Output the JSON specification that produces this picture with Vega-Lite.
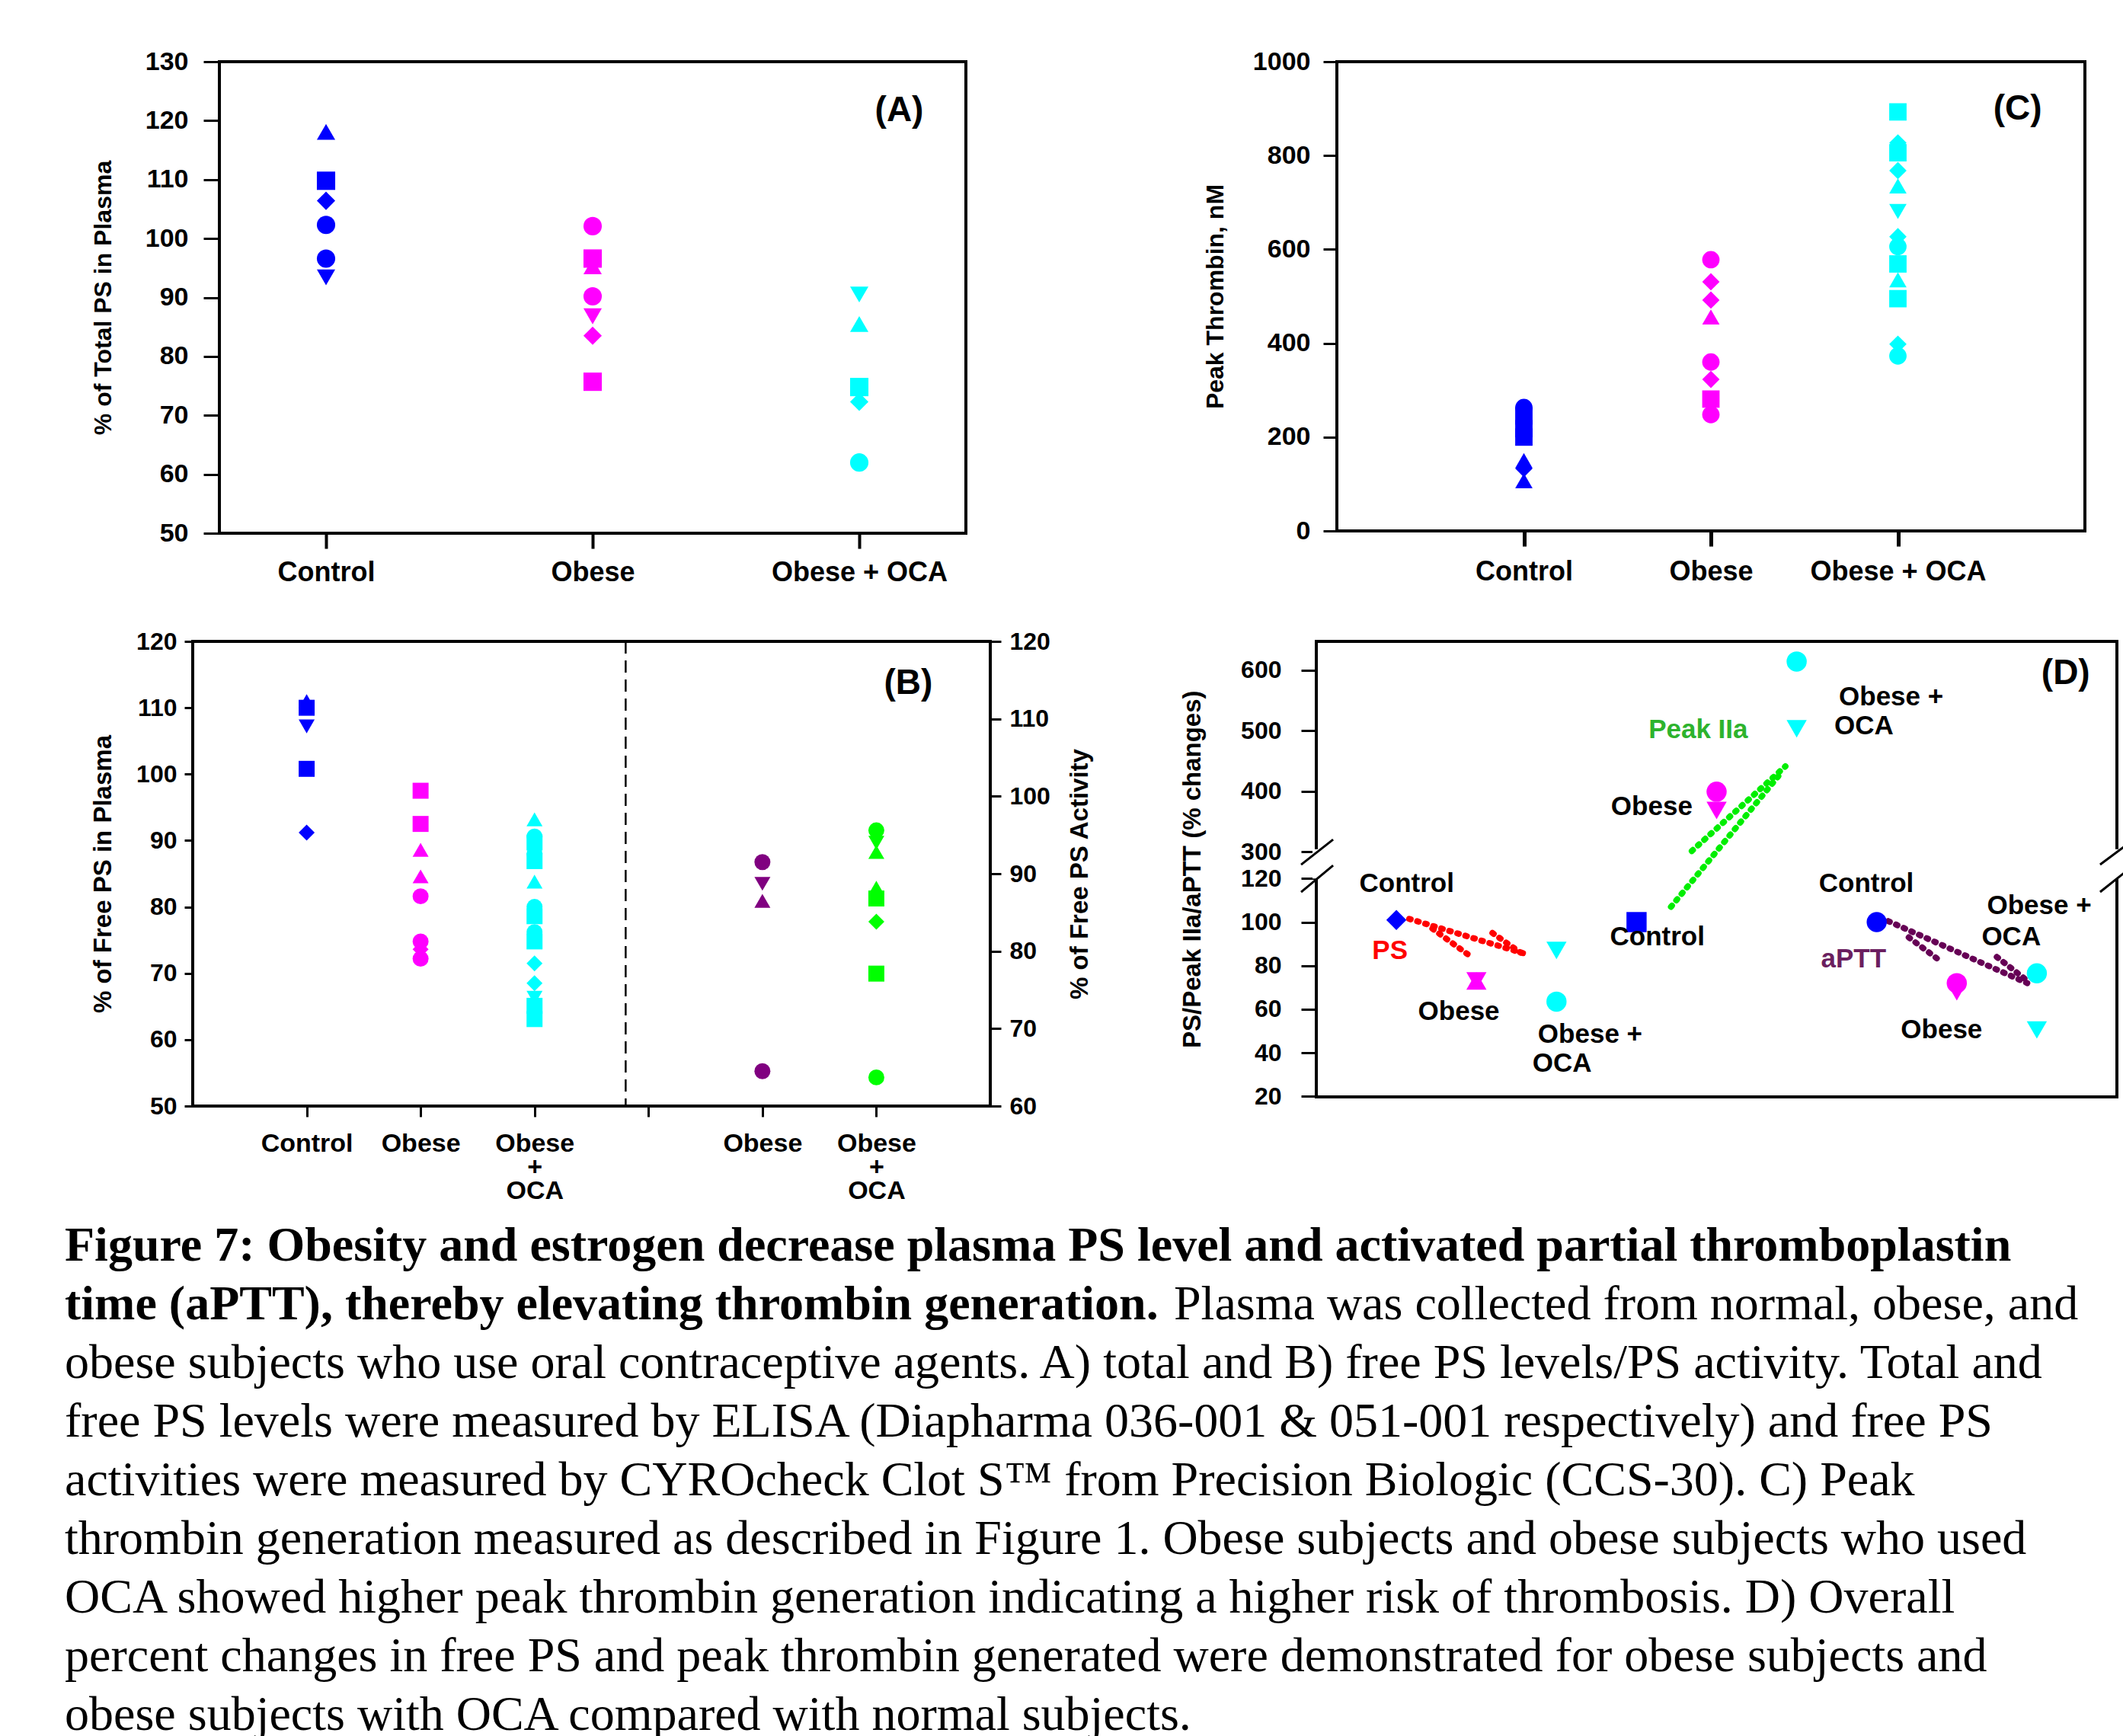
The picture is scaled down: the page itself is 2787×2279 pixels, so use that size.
{
  "$schema": "https://vega.github.io/schema/vega-lite/v6.json",
  "background": "white",
  "padding": {"left": 85, "top": 62, "right": 0, "bottom": 0},
  "title": {
    "text": ["Figure 7: Obesity and estrogen decrease plasma PS level and activated partial thromboplastin", "time (aPTT), thereby elevating thrombin generation."],
    "subtitle": [
      "\u200b\u2003\u2003\u2003\u2003\u2003\u2003\u2003\u2003\u2003\u2003\u2003\u2003\u2003\u2003\u2003\u2003\u2003\u2003\u2003\u2003\u2003\u2003\u00a0\u00a0\u00a0Plasma was collected from normal, obese, and",
      "obese subjects who use oral contraceptive agents. A) total and B) free PS levels/PS activity. Total and",
      "free PS levels were measured by ELISA (Diapharma 036-001 & 051-001 respectively) and free PS",
      "activities were measured by CYROcheck Clot S™ from Precision Biologic (CCS-30). C) Peak",
      "thrombin generation measured as described in Figure 1. Obese subjects and obese subjects who used",
      "OCA showed higher peak thrombin generation indicating a higher risk of thrombosis. D) Overall",
      "percent changes in free PS and peak thrombin generated were demonstrated for obese subjects and",
      "obese subjects with OCA compared with normal subjects."
    ],
    "orient": "bottom", "anchor": "start", "frame": "bounds", "dx": -31, "offset": 22,
    "font": "Liberation Serif", "fontSize": 64, "fontWeight": "bold", "lineHeight": 77, "color": "black",
    "subtitleFont": "Liberation Serif", "subtitleFontSize": 64, "subtitleFontWeight": "normal",
    "subtitleLineHeight": 77, "subtitleColor": "black", "subtitlePadding": -64
  },
  "spacing": 53,
  "vconcat": [
    {
      "spacing": 0,
      "hconcat": [
        {"width": 1, "height": 1, "data": {"values": []}, "mark": "point", "view": {"stroke": null}},
        {
          "spacing": 307,
          "hconcat": [
            {
              "width": 980, "height": 619,
              "data": {"values": [
                {"group": "Control", "x": 1, "value": 118.1, "shape": "triangle-up"},
                {"group": "Control", "x": 1, "value": 109.8, "shape": "square"},
                {"group": "Control", "x": 1, "value": 106.4, "shape": "diamond"},
                {"group": "Control", "x": 1, "value": 102.3, "shape": "circle"},
                {"group": "Control", "x": 1, "value": 96.6, "shape": "circle"},
                {"group": "Control", "x": 1, "value": 93.4, "shape": "triangle-down"},
                {"group": "Obese", "x": 2, "value": 102.1, "shape": "circle"},
                {"group": "Obese", "x": 2, "value": 96.6, "shape": "square"},
                {"group": "Obese", "x": 2, "value": 95.3, "shape": "triangle-up"},
                {"group": "Obese", "x": 2, "value": 90.2, "shape": "circle"},
                {"group": "Obese", "x": 2, "value": 86.8, "shape": "triangle-down"},
                {"group": "Obese", "x": 2, "value": 83.5, "shape": "diamond"},
                {"group": "Obese", "x": 2, "value": 75.7, "shape": "square"},
                {"group": "Obese + OCA", "x": 3, "value": 90.5, "shape": "triangle-down"},
                {"group": "Obese + OCA", "x": 3, "value": 85.5, "shape": "triangle-up"},
                {"group": "Obese + OCA", "x": 3, "value": 74.8, "shape": "square"},
                {"group": "Obese + OCA", "x": 3, "value": 72.3, "shape": "diamond"},
                {"group": "Obese + OCA", "x": 3, "value": 62.0, "shape": "circle"}
              ]},
              "layer": [
                {
                  "mark": {"type": "point", "filled": true, "size": 580, "opacity": 1},
                  "encoding": {
                    "x": {"field": "x", "type": "quantitative", "scale": {"domain": [0.6, 3.4], "nice": false, "zero": false},
                      "axis": {"values": [1, 2, 3], "labelExpr": "datum.value == 1 ? 'Control' : datum.value == 2 ? 'Obese' : 'Obese + OCA'", "title": null, "tickSize": 20, "tickWidth": 4, "labelPadding": 14, "labelFontSize": 36}},
                    "y": {"field": "value", "type": "quantitative", "scale": {"domain": [50, 130], "nice": false, "zero": false},
                      "axis": {"values": [50, 60, 70, 80, 90, 100, 110, 120, 130], "title": "% of Total PS in Plasma", "tickSize": 21, "labelPadding": 20, "titlePadding": 38, "labelFontSize": 34}},
                    "color": {"field": "group", "type": "nominal", "scale": {"domain": ["Control", "Obese", "Obese + OCA"], "range": ["#0000FF", "#FF00FF", "#00FFFF"]}, "legend": null},
                    "shape": {"field": "shape", "type": "nominal", "scale": null}
                  }
                },
                {
                  "data": {"values": [{"x": 3.15, "value": 121.7, "t": "(A)"}]},
                  "mark": {"type": "text", "fontSize": 46, "fontWeight": "bold", "color": "black"},
                  "encoding": {
                    "x": {"field": "x", "type": "quantitative"},
                    "y": {"field": "value", "type": "quantitative"},
                    "text": {"field": "t"}
                  }
                }
              ]
            },
            {
              "width": 982, "height": 616,
              "data": {"values": [
                {"group": "Control", "x": 1, "value": 263, "shape": "circle"},
                {"group": "Control", "x": 1, "value": 245, "shape": "square"},
                {"group": "Control", "x": 1, "value": 218, "shape": "square"},
                {"group": "Control", "x": 1, "value": 200, "shape": "square"},
                {"group": "Control", "x": 1, "value": 150, "shape": "triangle-up"},
                {"group": "Control", "x": 1, "value": 133, "shape": "diamond"},
                {"group": "Control", "x": 1, "value": 107, "shape": "triangle-up"},
                {"group": "Obese", "x": 2, "value": 578, "shape": "circle"},
                {"group": "Obese", "x": 2, "value": 531, "shape": "diamond"},
                {"group": "Obese", "x": 2, "value": 492, "shape": "diamond"},
                {"group": "Obese", "x": 2, "value": 456, "shape": "triangle-up"},
                {"group": "Obese", "x": 2, "value": 360, "shape": "circle"},
                {"group": "Obese", "x": 2, "value": 323, "shape": "diamond"},
                {"group": "Obese", "x": 2, "value": 281, "shape": "square"},
                {"group": "Obese", "x": 2, "value": 248, "shape": "circle"},
                {"group": "Obese + OCA", "x": 3, "value": 893, "shape": "square"},
                {"group": "Obese + OCA", "x": 3, "value": 827, "shape": "diamond"},
                {"group": "Obese + OCA", "x": 3, "value": 806, "shape": "square"},
                {"group": "Obese + OCA", "x": 3, "value": 768, "shape": "diamond"},
                {"group": "Obese + OCA", "x": 3, "value": 735, "shape": "triangle-up"},
                {"group": "Obese + OCA", "x": 3, "value": 681, "shape": "triangle-down"},
                {"group": "Obese + OCA", "x": 3, "value": 627, "shape": "diamond"},
                {"group": "Obese + OCA", "x": 3, "value": 606, "shape": "circle"},
                {"group": "Obese + OCA", "x": 3, "value": 569, "shape": "square"},
                {"group": "Obese + OCA", "x": 3, "value": 535, "shape": "triangle-up"},
                {"group": "Obese + OCA", "x": 3, "value": 495, "shape": "square"},
                {"group": "Obese + OCA", "x": 3, "value": 398, "shape": "diamond"},
                {"group": "Obese + OCA", "x": 3, "value": 373, "shape": "circle"}
              ]},
              "layer": [
                {
                  "mark": {"type": "point", "filled": true, "size": 520, "opacity": 1},
                  "encoding": {
                    "x": {"field": "x", "type": "quantitative", "scale": {"domain": [0, 4], "nice": false, "zero": false},
                      "axis": {"values": [1, 2, 3], "labelExpr": "datum.value == 1 ? 'Control' : datum.value == 2 ? 'Obese' : 'Obese + OCA'", "title": null, "tickSize": 20, "tickWidth": 5, "labelPadding": 16, "labelFontSize": 36}},
                    "y": {"field": "value", "type": "quantitative", "scale": {"domain": [0, 1000], "nice": false},
                      "axis": {"values": [0, 200, 400, 600, 800, 1000], "format": "d", "title": "Peak Thrombin, nM", "tickSize": 18, "labelPadding": 17, "titlePadding": 32, "labelFontSize": 34}},
                    "color": {"field": "group", "type": "nominal", "scale": {"domain": ["Control", "Obese", "Obese + OCA"], "range": ["#0000FF", "#FF00FF", "#00FFFF"]}, "legend": null},
                    "shape": {"field": "shape", "type": "nominal", "scale": null}
                  }
                },
                {
                  "data": {"values": [{"x": 3.64, "value": 899, "t": "(C)"}]},
                  "mark": {"type": "text", "fontSize": 46, "fontWeight": "bold", "color": "black"},
                  "encoding": {
                    "x": {"field": "x", "type": "quantitative"},
                    "y": {"field": "value", "type": "quantitative"},
                    "text": {"field": "t"}
                  }
                }
              ]
            }
          ]
        }
      ]
    },
    {
      "spacing": 0,
      "hconcat": [
        {"width": 1, "height": 1, "data": {"values": []}, "mark": "point", "view": {"stroke": null}},
        {
          "spacing": 110,
          "hconcat": [
            {
              "width": 1047, "height": 610,
              "layer": [
                {
                  "layer": [
                    {
                      "data": {"values": [
                        {"group": "Control", "x": 1, "value": 111.0, "shape": "triangle-up"},
                        {"group": "Control", "x": 1, "value": 110.0, "shape": "square"},
                        {"group": "Control", "x": 1, "value": 107.2, "shape": "triangle-down"},
                        {"group": "Control", "x": 1, "value": 100.8, "shape": "square"},
                        {"group": "Control", "x": 1, "value": 91.2, "shape": "diamond"},
                        {"group": "Obese", "x": 2, "value": 97.5, "shape": "square"},
                        {"group": "Obese", "x": 2, "value": 92.5, "shape": "square"},
                        {"group": "Obese", "x": 2, "value": 88.6, "shape": "triangle-up"},
                        {"group": "Obese", "x": 2, "value": 84.6, "shape": "triangle-up"},
                        {"group": "Obese", "x": 2, "value": 81.6, "shape": "circle"},
                        {"group": "Obese", "x": 2, "value": 74.8, "shape": "circle"},
                        {"group": "Obese", "x": 2, "value": 73.6, "shape": "diamond"},
                        {"group": "Obese", "x": 2, "value": 72.2, "shape": "circle"},
                        {"group": "Obese + OCA", "x": 3, "value": 93.2, "shape": "triangle-up"},
                        {"group": "Obese + OCA", "x": 3, "value": 90.6, "shape": "circle"},
                        {"group": "Obese + OCA", "x": 3, "value": 89.7, "shape": "square"},
                        {"group": "Obese + OCA", "x": 3, "value": 88.0, "shape": "circle"},
                        {"group": "Obese + OCA", "x": 3, "value": 86.9, "shape": "square"},
                        {"group": "Obese + OCA", "x": 3, "value": 83.8, "shape": "triangle-up"},
                        {"group": "Obese + OCA", "x": 3, "value": 80.0, "shape": "circle"},
                        {"group": "Obese + OCA", "x": 3, "value": 78.6, "shape": "square"},
                        {"group": "Obese + OCA", "x": 3, "value": 76.2, "shape": "circle"},
                        {"group": "Obese + OCA", "x": 3, "value": 74.8, "shape": "square"},
                        {"group": "Obese + OCA", "x": 3, "value": 71.5, "shape": "diamond"},
                        {"group": "Obese + OCA", "x": 3, "value": 68.5, "shape": "diamond"},
                        {"group": "Obese + OCA", "x": 3, "value": 66.3, "shape": "triangle-down"},
                        {"group": "Obese + OCA", "x": 3, "value": 65.1, "shape": "square"},
                        {"group": "Obese + OCA", "x": 3, "value": 63.1, "shape": "square"}
                      ]},
                      "mark": {"type": "point", "filled": true, "size": 440, "opacity": 1},
                      "encoding": {
                        "x": {"field": "x", "type": "quantitative", "scale": {"domain": [0, 7], "nice": false, "zero": false},
                          "axis": {"values": [1, 2, 3, 4, 5, 6], "labelExpr": "datum.value == 1 ? 'Control' : datum.value == 2 ? 'Obese' : datum.value == 3 ? ['Obese', '+', 'OCA'] : datum.value == 5 ? 'Obese' : datum.value == 6 ? ['Obese', '+', 'OCA'] : ''", "title": null, "tickSize": 14, "tickWidth": 3, "labelPadding": 18, "labelFontSize": 34, "labelLineHeight": 31}},
                        "y": {"field": "value", "type": "quantitative", "scale": {"domain": [50, 120], "nice": false, "zero": false},
                          "axis": {"orient": "left", "values": [50, 60, 70, 80, 90, 100, 110, 120], "title": "% of Free PS in Plasma", "tickSize": 11, "labelPadding": 10, "titlePadding": 26, "labelFontSize": 32, "titleFontSize": 33}},
                        "color": {"field": "group", "type": "nominal", "scale": {"domain": ["Control", "Obese", "Obese + OCA"], "range": ["#0000FF", "#FF00FF", "#00FFFF"]}, "legend": null},
                        "shape": {"field": "shape", "type": "nominal", "scale": null}
                      }
                    },
                    {
                      "data": {"values": [{"x": 3.8}]},
                      "mark": {"type": "rule", "strokeDash": [16, 9], "strokeWidth": 2.5, "color": "black"},
                      "encoding": {"x": {"field": "x", "type": "quantitative"}}
                    },
                    {
                      "data": {"values": [{"x": 6.28, "value": 113.7, "t": "(B)"}]},
                      "mark": {"type": "text", "fontSize": 46, "fontWeight": "bold", "color": "black"},
                      "encoding": {
                        "x": {"field": "x", "type": "quantitative"},
                        "y": {"field": "value", "type": "quantitative"},
                        "text": {"field": "t"}
                      }
                    }
                  ]
                },
                {
                  "data": {"values": [
                    {"group": "Obese activity", "x": 5, "activity": 91.5, "shape": "circle"},
                    {"group": "Obese activity", "x": 5, "activity": 88.7, "shape": "triangle-down"},
                    {"group": "Obese activity", "x": 5, "activity": 86.5, "shape": "triangle-up"},
                    {"group": "Obese activity", "x": 5, "activity": 64.5, "shape": "circle"},
                    {"group": "Obese + OCA activity", "x": 6, "activity": 95.6, "shape": "circle"},
                    {"group": "Obese + OCA activity", "x": 6, "activity": 94.0, "shape": "triangle-down"},
                    {"group": "Obese + OCA activity", "x": 6, "activity": 92.8, "shape": "triangle-up"},
                    {"group": "Obese + OCA activity", "x": 6, "activity": 88.2, "shape": "triangle-up"},
                    {"group": "Obese + OCA activity", "x": 6, "activity": 86.8, "shape": "square"},
                    {"group": "Obese + OCA activity", "x": 6, "activity": 83.8, "shape": "diamond"},
                    {"group": "Obese + OCA activity", "x": 6, "activity": 77.1, "shape": "square"},
                    {"group": "Obese + OCA activity", "x": 6, "activity": 63.7, "shape": "circle"}
                  ]},
                  "mark": {"type": "point", "filled": true, "size": 440, "opacity": 1},
                  "encoding": {
                    "x": {"field": "x", "type": "quantitative"},
                    "y": {"field": "activity", "type": "quantitative", "scale": {"domain": [60, 120], "nice": false, "zero": false},
                      "axis": {"orient": "right", "values": [60, 70, 80, 90, 100, 110, 120], "title": "% of Free PS Activity", "titleAngle": 270, "tickSize": 14, "labelPadding": 11, "titlePadding": 56, "labelFontSize": 32, "titleFontSize": 33}},
                    "color": {"field": "group", "type": "nominal", "scale": {"domain": ["Obese activity", "Obese + OCA activity"], "range": ["#800080", "#00FF00"]}, "legend": null},
                    "shape": {"field": "shape", "type": "nominal", "scale": null}
                  }
                }
              ],
              "resolve": {"scale": {"y": "independent", "color": "independent"}}
            },
            {
              "width": 1051, "height": 598,
              "layer": [
                {
                  "data": {"values": [
                    {"series": "PS1", "kind": "PS", "x": 1.16, "value": 101.5},
                    {"series": "PS1", "kind": "PS", "x": 2.65, "value": 85},
                    {"series": "PS2", "kind": "PS", "x": 1.45, "value": 97},
                    {"series": "PS2", "kind": "PS", "x": 1.9, "value": 85},
                    {"series": "PS3", "kind": "PS", "x": 2.2, "value": 95},
                    {"series": "PS3", "kind": "PS", "x": 2.55, "value": 86},
                    {"series": "G1", "kind": "Peak IIa", "x": 4.43, "value": 107},
                    {"series": "G1", "kind": "Peak IIa", "x": 5.78, "value": 426},
                    {"series": "G2", "kind": "Peak IIa", "x": 4.69, "value": 301},
                    {"series": "G2", "kind": "Peak IIa", "x": 5.86, "value": 441},
                    {"series": "P1", "kind": "aPTT", "x": 7.05, "value": 102},
                    {"series": "P1", "kind": "aPTT", "x": 8.88, "value": 72},
                    {"series": "P2", "kind": "aPTT", "x": 7.4, "value": 93},
                    {"series": "P2", "kind": "aPTT", "x": 7.8, "value": 82},
                    {"series": "P3", "kind": "aPTT", "x": 8.5, "value": 84},
                    {"series": "P3", "kind": "aPTT", "x": 8.85, "value": 74}
                  ]},
                  "mark": {"type": "line", "strokeDash": [2, 9], "strokeWidth": 8, "strokeCap": "round"},
                  "encoding": {
                    "x": {"field": "x", "type": "quantitative", "scale": {"domain": [0, 10], "nice": false, "zero": false}, "axis": null},
                    "y": {"field": "value", "type": "quantitative", "scale": {"domain": [20, 120, 300, 647.3], "range": [597.4, 311.3, 276, 0], "nice": false, "zero": false},
                      "axis": {"values": [20, 40, 60, 80, 100, 120, 300, 400, 500, 600], "title": "PS/Peak IIa/aPTT (% changes)", "tickSize": 20, "labelPadding": 26, "titlePadding": 46, "labelFontSize": 32, "titleFontSize": 33}},
                    "detail": {"field": "series"},
                    "color": {"field": "kind", "type": "nominal", "scale": {"domain": ["PS", "Peak IIa", "aPTT"], "range": ["#FF0000", "#00EE00", "#660055"]}, "legend": null}
                  }
                },
                {
                  "data": {"values": [
                    {"group": "Control", "x": 1, "value": 101, "shape": "diamond"},
                    {"group": "Obese", "x": 2, "value": 73, "shape": "triangle-up"},
                    {"group": "Obese", "x": 2, "value": 73, "shape": "triangle-down"},
                    {"group": "Obese + OCA", "x": 3, "value": 87, "shape": "triangle-down"},
                    {"group": "Obese + OCA", "x": 3, "value": 63.5, "shape": "circle"},
                    {"group": "Control", "x": 4, "value": 100, "shape": "square"},
                    {"group": "Obese", "x": 5, "value": 399, "shape": "circle"},
                    {"group": "Obese", "x": 5, "value": 368, "shape": "triangle-down"},
                    {"group": "Obese + OCA", "x": 6, "value": 614, "shape": "circle"},
                    {"group": "Obese + OCA", "x": 6, "value": 503, "shape": "triangle-down"},
                    {"group": "Control", "x": 7, "value": 100, "shape": "circle"},
                    {"group": "Obese", "x": 8, "value": 72, "shape": "circle"},
                    {"group": "Obese", "x": 8, "value": 68, "shape": "triangle-down"},
                    {"group": "Obese + OCA", "x": 9, "value": 76.5, "shape": "circle"},
                    {"group": "Obese + OCA", "x": 9, "value": 50.5, "shape": "triangle-down"}
                  ]},
                  "mark": {"type": "point", "filled": true, "size": 700, "opacity": 1},
                  "encoding": {
                    "x": {"field": "x", "type": "quantitative"},
                    "y": {"field": "value", "type": "quantitative"},
                    "color": {"field": "group", "type": "nominal", "scale": {"domain": ["Control", "Obese", "Obese + OCA"], "range": ["#0000FF", "#FF00FF", "#00FFFF"]}, "legend": null},
                    "shape": {"field": "shape", "type": "nominal", "scale": null}
                  }
                },
                {
                  "data": {"values": [
                    {"x": 1.13, "value": 117.8, "t": "Control", "kind": "label"},
                    {"x": 0.92, "value": 87, "t": "PS", "kind": "PS"},
                    {"x": 1.78, "value": 58.9, "t": "Obese", "kind": "label"},
                    {"x": 3.42, "value": 48.3, "t": "Obese +", "kind": "label"},
                    {"x": 3.07, "value": 35.2, "t": "OCA", "kind": "label"},
                    {"x": 4.26, "value": 93.2, "t": "Control", "kind": "label"},
                    {"x": 4.77, "value": 501, "t": "Peak IIa", "kind": "Peak IIa"},
                    {"x": 4.19, "value": 374, "t": "Obese", "kind": "label"},
                    {"x": 7.18, "value": 556, "t": "Obese +", "kind": "label"},
                    {"x": 6.84, "value": 508, "t": "OCA", "kind": "label"},
                    {"x": 6.87, "value": 117.8, "t": "Control", "kind": "label"},
                    {"x": 6.71, "value": 83, "t": "aPTT", "kind": "aPTT"},
                    {"x": 9.03, "value": 107.4, "t": "Obese +", "kind": "label"},
                    {"x": 8.68, "value": 93.2, "t": "OCA", "kind": "label"},
                    {"x": 7.81, "value": 50.4, "t": "Obese", "kind": "label"}
                  ]},
                  "mark": {"type": "text", "fontSize": 35, "fontWeight": "bold"},
                  "encoding": {
                    "x": {"field": "x", "type": "quantitative"},
                    "y": {"field": "value", "type": "quantitative"},
                    "text": {"field": "t"},
                    "color": {"field": "kind", "type": "nominal", "scale": {"domain": ["label", "PS", "Peak IIa", "aPTT"], "range": ["#000000", "#FF0000", "#2DB32D", "#6B1F5F"]}, "legend": null}
                  }
                },
                {
                  "data": {"values": [{"x": 9.36, "value": 595, "t": "(D)"}]},
                  "mark": {"type": "text", "fontSize": 46, "fontWeight": "bold", "color": "black"},
                  "encoding": {
                    "x": {"field": "x", "type": "quantitative"},
                    "y": {"field": "value", "type": "quantitative"},
                    "text": {"field": "t"}
                  }
                },
                {
                  "data": {"values": [
                    {"x": 0, "value": 304, "value2": 120},
                    {"x": 10, "value": 304, "value2": 120}
                  ]},
                  "mark": {"type": "rule", "color": "white", "strokeWidth": 10},
                  "encoding": {
                    "x": {"field": "x", "type": "quantitative"},
                    "y": {"field": "value", "type": "quantitative"},
                    "y2": {"field": "value2"}
                  }
                },
                {
                  "data": {"values": [
                    {"x": -0.19, "x2": 0.21, "value": 213, "value2": 320},
                    {"x": -0.19, "x2": 0.21, "value": 113.8, "value2": 208},
                    {"x": 9.79, "x2": 10.21, "value": 213, "value2": 320},
                    {"x": 9.79, "x2": 10.21, "value": 113.8, "value2": 208}
                  ]},
                  "mark": {"type": "rule", "color": "black", "strokeWidth": 3},
                  "encoding": {
                    "x": {"field": "x", "type": "quantitative"},
                    "x2": {"field": "x2"},
                    "y": {"field": "value", "type": "quantitative"},
                    "y2": {"field": "value2"}
                  }
                }
              ],
              "resolve": {"scale": {"color": "independent"}}
            }
          ]
        }
      ]
    }
  ],
  "config": {
    "font": "Liberation Sans",
    "view": {"stroke": "black", "strokeWidth": 4},
    "axis": {
      "grid": false, "domain": false, "ticks": true, "tickColor": "black", "tickWidth": 3,
      "labelFont": "Liberation Sans", "labelFontWeight": "bold", "labelColor": "black", "labelFontSize": 34,
      "titleFont": "Liberation Sans", "titleFontWeight": "bold", "titleColor": "black", "titleFontSize": 32,
      "labelOverlap": false, "labelFlush": false, "labelBound": false, "labelLimit": 0
    },
    "text": {"font": "Liberation Sans"}
  }
}
